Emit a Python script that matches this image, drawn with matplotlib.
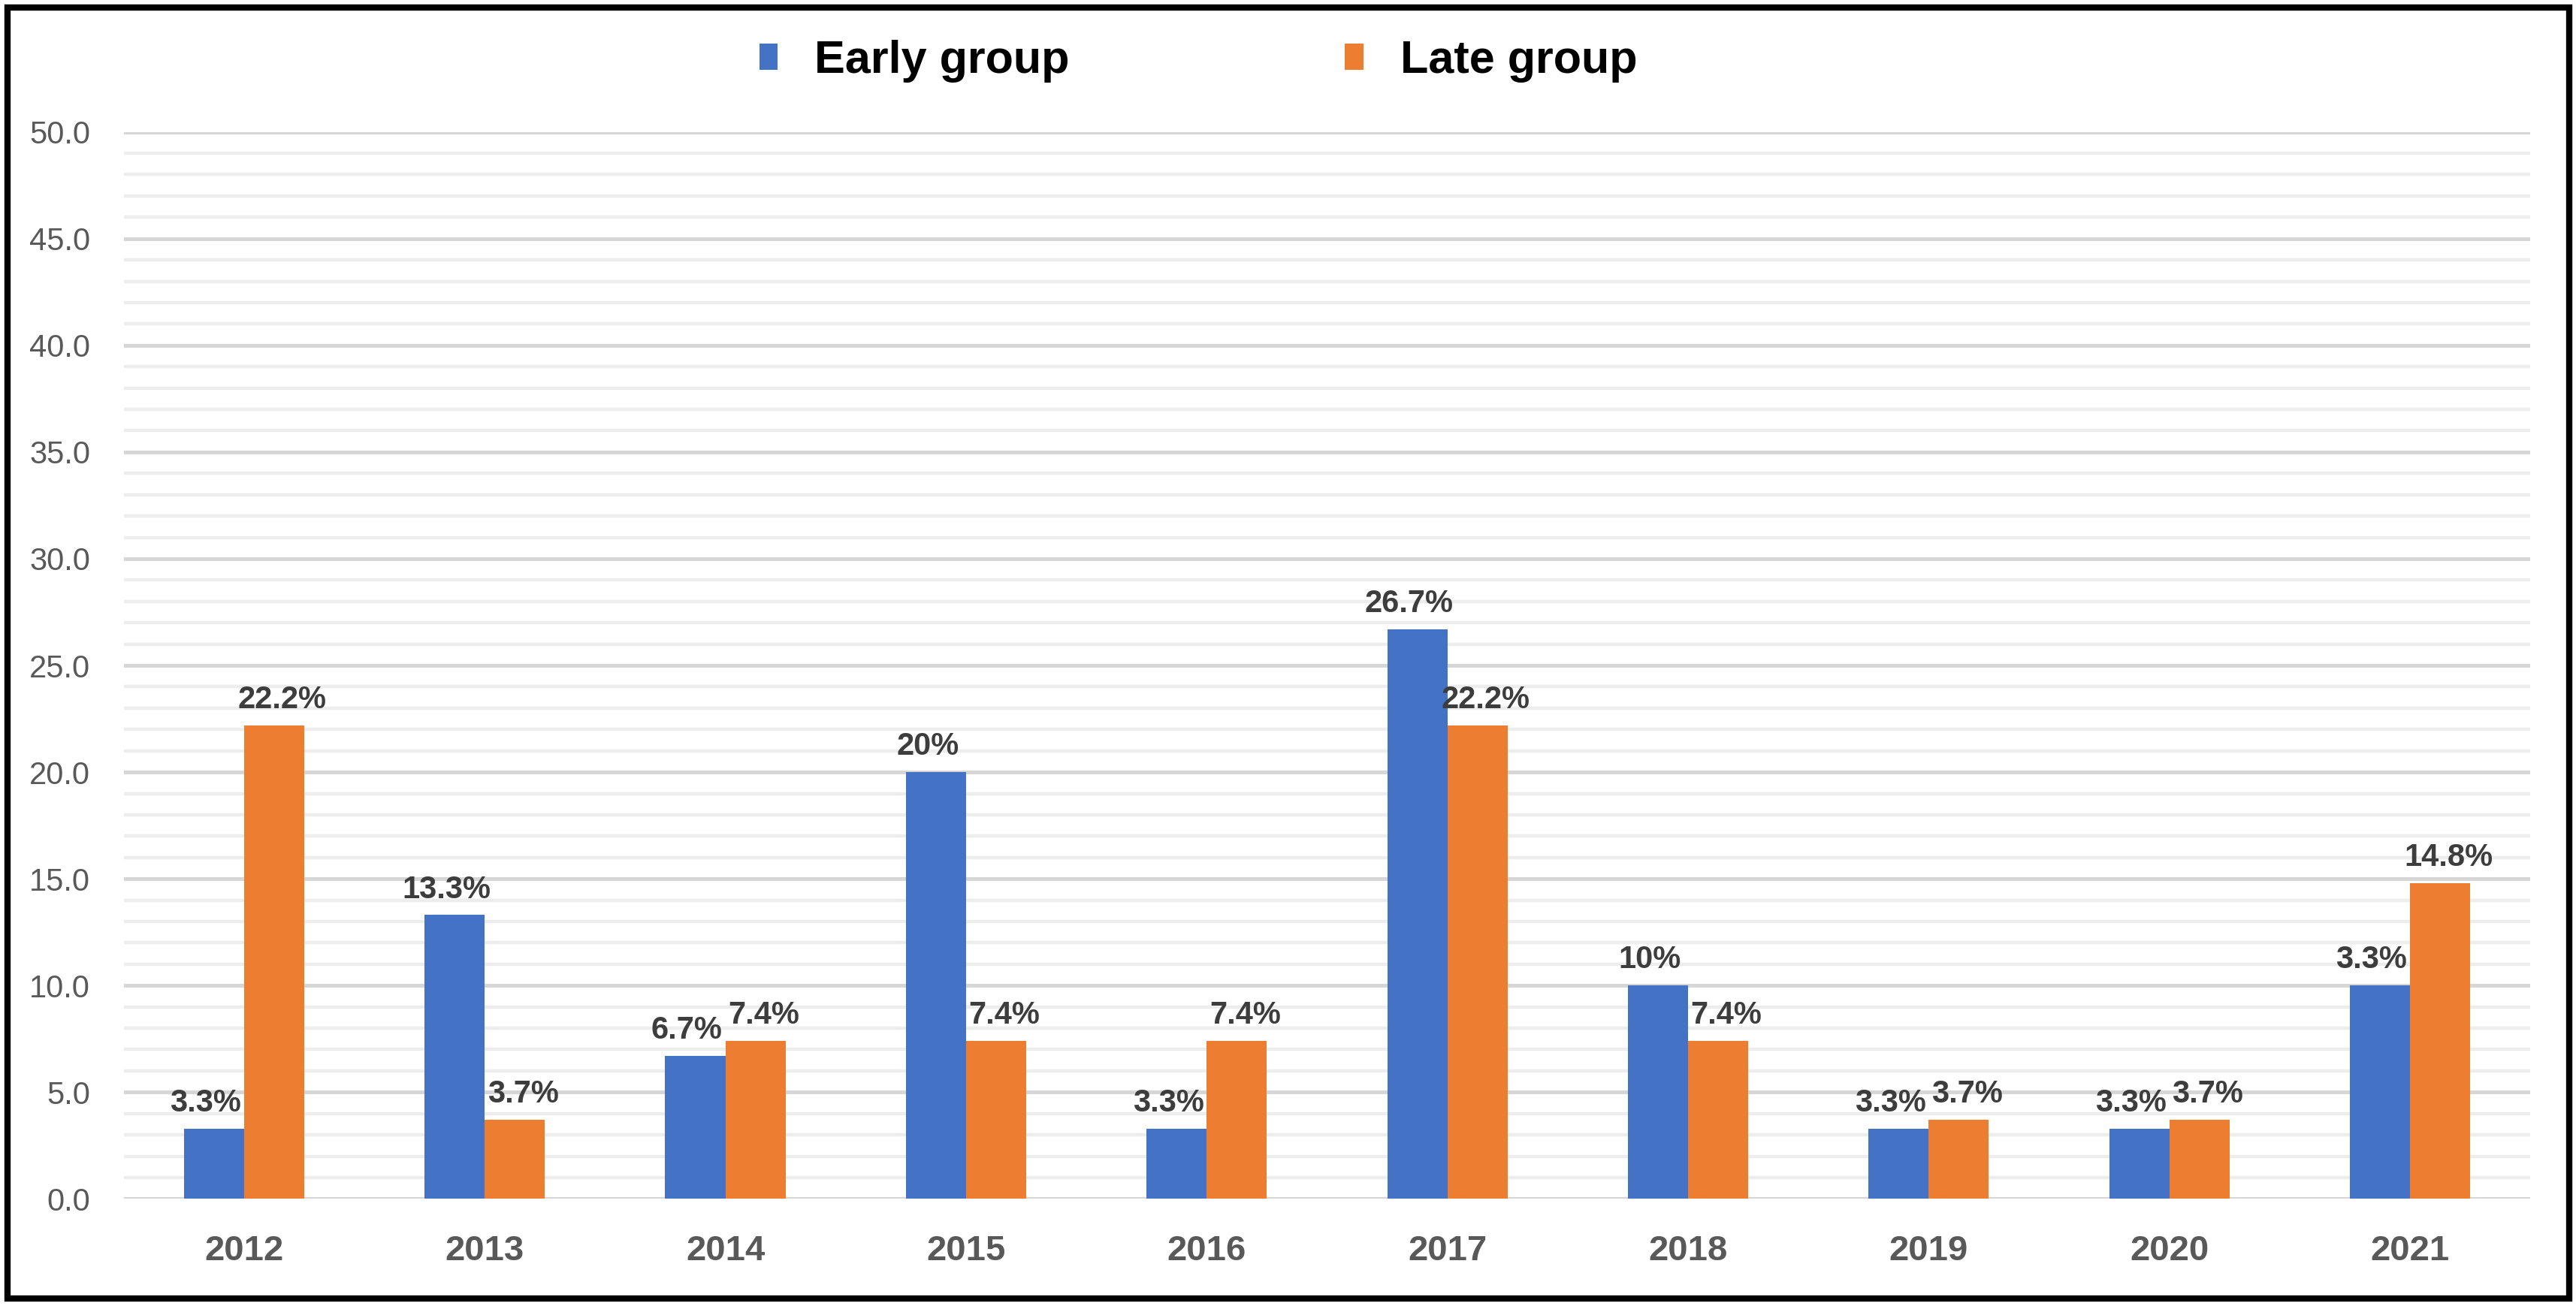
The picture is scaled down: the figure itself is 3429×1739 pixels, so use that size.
import numpy as np
import matplotlib
matplotlib.use('Agg')
import matplotlib.pyplot as plt
from matplotlib.patches import Rectangle

# Chart data
years = ['2012', '2013', '2014', '2015', '2016', '2017', '2018', '2019', '2020', '2021']
early_values = [3.3, 13.3, 6.7, 20.0, 3.3, 26.7, 10.0, 3.3, 3.3, 10.0]
late_values = [22.2, 3.7, 7.4, 7.4, 7.4, 22.2, 7.4, 3.7, 3.7, 14.8]
early_labels = ['3.3%', '13.3%', '6.7%', '20%', '3.3%', '26.7%', '10%', '3.3%', '3.3%', '3.3%']
late_labels = ['22.2%', '3.7%', '7.4%', '7.4%', '7.4%', '22.2%', '7.4%', '3.7%', '3.7%', '14.8%']
series_names = ['Early group', 'Late group']

blue = '#4472C4'
orange = '#ED7D31'

plt.rcParams['font.family'] = ['Liberation Sans', 'DejaVu Sans']

fig = plt.figure(figsize=(17.15, 8.695), dpi=200)
ax = fig.add_axes([0.048, 0.082, 0.934, 0.817])

x = np.arange(len(years))
width = 0.25
bars_early = ax.bar(x - width / 2, early_values, width, color=blue, label=series_names[0], zorder=3)
bars_late = ax.bar(x + width / 2, late_values, width, color=orange, label=series_names[1], zorder=3)

# Data labels above bars, nudged apart a little so neighbours don't collide
for bars, labels, dx in [(bars_early, early_labels, -4), (bars_late, late_labels, 4)]:
    for b, lab in zip(bars, labels):
        ax.annotate(lab, (b.get_x() + b.get_width() / 2, b.get_height()),
                    xytext=(dx, 5), textcoords='offset points',
                    ha='center', va='bottom', fontsize=15, fontweight='bold',
                    color='#3d3d3d', zorder=4)

ax.set_xlim(-0.5, len(years) - 0.5)
ax.set_ylim(0, 50)
ax.set_yticks(np.arange(0, 50.1, 5))
ax.set_yticks(np.arange(0, 50.1, 1), minor=True)
ax.set_yticklabels([f'{v:.1f}' for v in np.arange(0, 50.1, 5)])
ax.set_xticks(x)
ax.set_xticklabels(years)

ax.grid(which='minor', axis='y', color='#ededed', lw=1.6, zorder=0)
ax.grid(which='major', axis='y', color='#d6d6d6', lw=1.8, zorder=1)
ax.set_axisbelow(True)

for s in ax.spines.values():
    s.set_visible(False)

ax.tick_params(axis='y', which='both', length=0, pad=16, labelsize=15, labelcolor='#595959')
ax.tick_params(axis='x', which='both', length=0, pad=17, labelsize=17, labelcolor='#595959')
for t in ax.get_xticklabels():
    t.set_fontweight('bold')

fig.legend(handles=[bars_early, bars_late], labels=series_names,
           loc='center', bbox_to_anchor=(0.465, 0.953), ncol=2, frameon=False,
           prop={'weight': 'bold', 'size': 22}, handlelength=0.4, handleheight=0.5,
           handletextpad=0.8, columnspacing=6.0)

# Outer black frame
fig.add_artist(Rectangle((0.003, 0.006), 0.994, 0.988, transform=fig.transFigure,
                         fill=False, lw=3, ec='black'))

fig.savefig('out.png', dpi=200, facecolor='white')
